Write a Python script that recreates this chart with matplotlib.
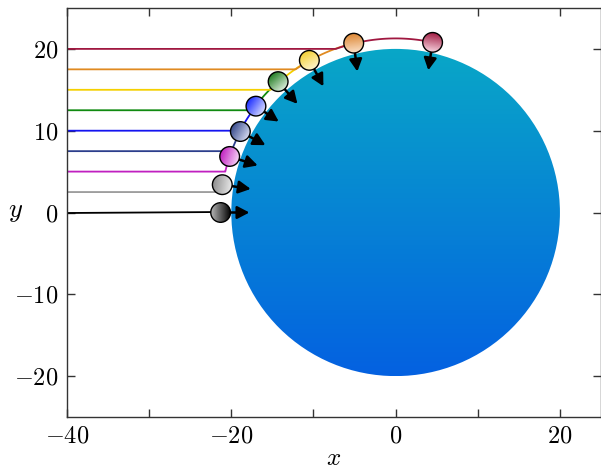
import numpy as np
import matplotlib
matplotlib.use("Agg")
import matplotlib.pyplot as plt
from matplotlib.patches import Circle
from matplotlib.colors import to_rgb

plt.rcParams["mathtext.fontset"] = "cm"
plt.rcParams["font.family"] = "serif"
plt.rcParams["font.serif"] = ["cmr10", "DejaVu Serif"]

# Incoming particles: starting heights and where each one ends up
start_y = [0.0, 2.5, 5.0, 7.5, 10.0, 12.5, 15.0, 17.5, 20.0]
ball_x = [-21.3, -21.1, -20.2, -18.9, -17.0, -14.3, -10.5, -5.1, 4.5]
ball_y = [0.0, 3.4, 6.85, 9.9, 13.0, 16.0, 18.6, 20.7, 20.8]
# velocity arrows at the final positions
arrow_dx = [3.5, 3.46, 3.41, 3.05, 2.77, 2.35, 1.71, 0.44, -0.52]
arrow_dy = [0.0, -0.52, -1.10, -1.67, -1.88, -2.72, -3.17, -3.46, -3.41]

line_colors = ["#000000", "#9a9a9a", "#c020c0", "#2c3e8c", "#1414f0",
               "#108a10", "#f5d000", "#e08a20", "#a01840"]
ball_back = ["#b4b4b4", "#8c8c8c", "#c020c0", "#34478a", "#1a2cff",
             "#1e7a1e", "#f2d030", "#dc8530", "#a01840"]
ball_front = ["#000000", "#e8e8e8", "#f6d6f6", "#d0d6ee", "#d8dcff",
              "#d8ecd8", "#fff4cc", "#fbe0c8", "#f6d0dc"]

# Central body
body_center = (0.0, 0.0)
body_radius = 20.0
body_top = "#09a7c7"
body_bottom = "#0461e1"

x_start = -40.0
ball_r = 1.2

fig = plt.figure(figsize=(6.01, 4.74), dpi=100)
ax = fig.add_axes([67 / 601, 57 / 474, 534 / 601, 409 / 474])
ax.set_xlim(-40, 25)
ax.set_ylim(-25, 25)

# gradient-filled body
body = Circle(body_center, body_radius, transform=ax.transData)
grad = np.linspace(0, 1, 256)[:, None]
c0, c1 = np.array(to_rgb(body_bottom)), np.array(to_rgb(body_top))
img = c0[None, None, :] * (1 - grad[..., None]) + c1[None, None, :] * grad[..., None]
img = np.repeat(img, 2, axis=1)
cx, cy = body_center
im = ax.imshow(img, extent=[cx - body_radius, cx + body_radius,
                            cy - body_radius, cy + body_radius],
               origin="lower", aspect="auto", zorder=1, interpolation="bilinear")
im.set_clip_path(body)

# trajectories: straight approach, then sliding along the body
for y0, xb, yb, col in zip(start_y, ball_x, ball_y, line_colors):
    r = np.hypot(xb, yb)
    xc = -np.sqrt(max(r ** 2 - y0 ** 2, 0.0))
    th0 = np.arctan2(y0, xc)
    th1 = np.arctan2(yb, xb)
    th = np.linspace(th0, th1, 100)
    xs = np.concatenate([[x_start], r * np.cos(th)])
    ys = np.concatenate([[y0], r * np.sin(th)])
    ax.plot(xs, ys, color=col, lw=1.3, zorder=2, solid_capstyle="butt")

# arrows
for xb, yb, dx, dy in zip(ball_x, ball_y, arrow_dx, arrow_dy):
    ax.annotate("", xy=(xb + dx, yb + dy), xytext=(xb, yb),
                arrowprops=dict(arrowstyle="-|>,head_length=0.4,head_width=0.21",
                                mutation_scale=18, lw=1.8, color="k",
                                shrinkA=0, shrinkB=0),
                zorder=3)

# shaded balls
n = 64
for xb, yb, dx, dy, cb, cf in zip(ball_x, ball_y, arrow_dx, arrow_dy,
                                  ball_back, ball_front):
    u = np.array([dx, dy]) / np.hypot(dx, dy)
    gx = np.linspace(-1, 1, n)
    X, Y = np.meshgrid(gx, gx)
    t = ((X * u[0] + Y * u[1]) + 1) / 2
    t = np.clip(t, 0, 1)[..., None]
    a, b = np.array(to_rgb(cb)), np.array(to_rgb(cf))
    bimg = a * (1 - t) + b * t
    clip = Circle((xb, yb), ball_r, transform=ax.transData)
    bi = ax.imshow(bimg, extent=[xb - ball_r, xb + ball_r, yb - ball_r, yb + ball_r],
                   origin="lower", aspect="auto", zorder=4, interpolation="bilinear")
    bi.set_clip_path(clip)
    ax.add_patch(Circle((xb, yb), ball_r, fill=False, ec="k", lw=1.0, zorder=5))

ax.set_xlim(-40, 25)
ax.set_ylim(-25, 25)

xticks = [-40, -20, 0, 20]
xminor = [-30, -10, 10]
yticks = [-20, -10, 0, 10, 20]
ax.set_xticks(xticks)
ax.set_xticklabels([r"$%d$" % v for v in xticks])
ax.set_xticks(xminor, minor=True)
ax.set_yticks(yticks)
ax.set_yticklabels([r"$%d$" % v for v in yticks])

for which in ("major", "minor"):
    ax.tick_params(axis="both", which=which, direction="in", length=6, width=1.0,
                   top=True, right=True, color="#333333", labelsize=17.5, pad=6)
for s in ax.spines.values():
    s.set_color("#333333")
    s.set_linewidth(1.0)

ax.set_xlabel(r"$x$", fontsize=18, labelpad=0)
ax.set_ylabel(r"$y$", fontsize=19, rotation=0, va="center", ha="center")
ax.yaxis.set_label_coords(-0.097, 0.5)

fig.savefig("out.png", dpi=100)
